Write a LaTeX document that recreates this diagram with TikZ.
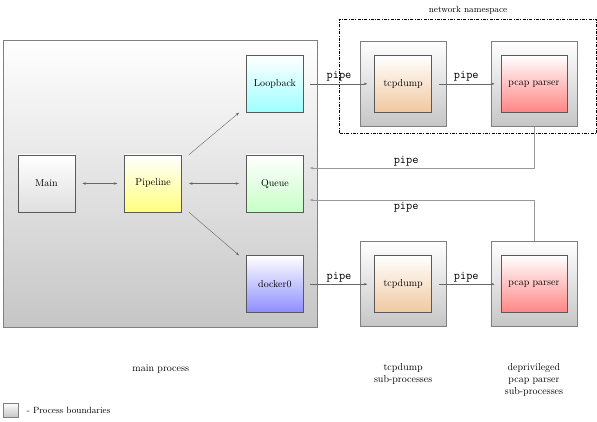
\documentclass[tikz,border=0pt]{standalone}
\usepackage{tikz}
\usetikzlibrary{positioning, arrows.meta, fit, backgrounds}
\definecolor{peach}{RGB}{240,200,160}

\begin{document}
\begin{tikzpicture}[
			x=1pt, y=1pt,
			proc/.style={draw=gray, line width=0.8pt, top color=white, bottom color=gray!45},
			blk/.style={draw=black!65, line width=0.7pt, minimum width=57pt, minimum height=57pt,
				inner sep=0pt, top color=white, bottom color=#1},
			conn/.style={->, black!60, line width=0.4pt},
			feed/.style={->, black!40, line width=0.5pt},
			lbl/.style={font=\ttfamily\large, text=black, inner sep=2pt},
			>={Stealth[length=3.5pt, width=2.5pt]}
			]
			\useasboundingbox (0,0) rectangle (597,422);
			
			% main process
			\node[blk=gray!25] (main) at (46.5,238.5) {Main};
			\node[blk=yellow!50] (pipeline) [right=49pt of main] {Pipeline};
			\node[blk=green!22] (queue) [right=64pt of pipeline] {Queue};
			\node[blk=cyan!38] (loop) [above=42pt of queue] {Loopback};
			\node[blk=blue!45] (dock) [below=43pt of queue] {docker0};
			\begin{scope}[on background layer]
				\node[proc, fit=(main)(loop)(dock), inner xsep=14pt, inner ysep=14.5pt] (mainproc) {};
			\end{scope}
			
			\draw[conn, <->, shorten <=7pt, shorten >=7pt] (main) -- (pipeline);
			\draw[conn, <->, shorten <=7pt, shorten >=7pt] (pipeline) -- (queue);
			\draw[conn] ([xshift=7pt]pipeline.north east) -- ([xshift=-7pt]loop.south west);
			\draw[conn] ([xshift=7pt]pipeline.south east) -- ([xshift=-7pt]dock.north west);
			
			% sub-processes (top row)
			\node[proc, minimum width=86pt, minimum height=85pt] (tcpT) [right=56pt of loop] {};
			\node[proc, minimum width=86pt, minimum height=85pt] (pcapT) [right=44pt of tcpT] {};
			\node[blk=peach] (tcpdT) at (tcpT) {tcpdump};
			\node[blk=red!48, minimum width=66pt] (parseT) at (pcapT) {pcap parser};
			
			% sub-processes (bottom row)
			\node[proc, minimum width=86pt, minimum height=85pt] (tcpB) [right=56pt of dock] {};
			\node[proc, minimum width=86pt, minimum height=85pt] (pcapB) [right=44pt of tcpB] {};
			\node[blk=peach] (tcpdB) at (tcpB) {tcpdump};
			\node[blk=red!48, minimum width=66pt] (parseB) at (pcapB) {pcap parser};
			
			% network namespace
			\coordinate (nsnw) at ([shift={(-20pt,22pt)}]tcpT.north west);
			\coordinate (nsse) at ([shift={(19pt,-7pt)}]pcapT.south east);
			\node[draw, line width=0.6pt, dash pattern=on 3pt off 1.5pt on 0.6pt off 1.5pt,
				fit=(nsnw)(nsse), inner sep=0pt] (ns) {};
			\node[font=\small] (nslbl) [above=1pt of ns] {network namespace};
			
			% pipes
			\draw[conn, shorten <=6pt, shorten >=7pt] (loop) -- (tcpdT) node[lbl, midway, above] {pipe};
			\draw[conn, shorten <=7pt, shorten >=6pt] (tcpdT) -- (parseT) node[lbl, midway, above] {pipe};
			\draw[conn, shorten <=6pt, shorten >=7pt] (dock) -- (tcpdB) node[lbl, midway, above] {pipe};
			\draw[conn, shorten <=7pt, shorten >=6pt] (tcpdB) -- (parseB) node[lbl, midway, above] {pipe};
			\draw[feed] (pcapT.south) |- ([xshift=6pt, yshift=15.5pt]queue.east)
				node[lbl, pos=0.785, above] {pipe};
			\draw[feed] (pcapB.north) |- ([xshift=6pt, yshift=-16.5pt]queue.east)
				node[lbl, pos=0.785, below] {pipe};
			
			% captions
			\node (mainlbl) [below=33pt of mainproc] {main process};
			\node[align=center] (tcplbl) [below=33pt of tcpB] {tcpdump\\sub-processes};
			\node[align=center] (pcaplbl) [below=33pt of pcapB] {deprivileged\\pcap parser\\sub-processes};
			
			% legend
			\node[proc, line width=0.6pt, minimum width=15pt, minimum height=14pt, inner sep=0pt] (key) at (10.5,12) {};
			\node[font=\small] (keylbl) [right=5pt of key] {- Process boundaries};
			
		\end{tikzpicture}
\end{document}
